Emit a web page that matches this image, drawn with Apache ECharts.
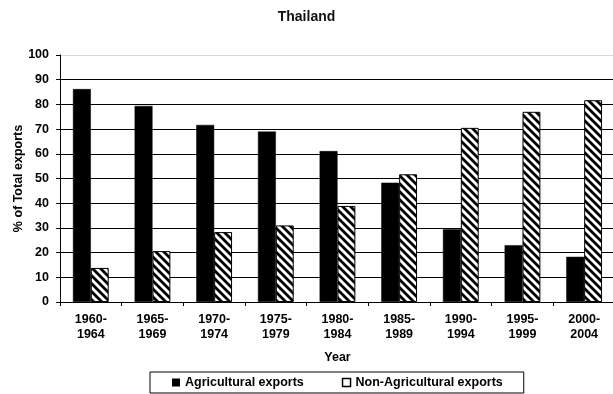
<!DOCTYPE html>
<html>
<head>
<meta charset="utf-8">
<script src="https://cdn.jsdelivr.net/npm/echarts@6/dist/echarts.min.js"></script>
<style>
  html, body { margin: 0; padding: 0; background: #fff; }
  #chart { width: 613px; height: 394px; }
</style>
</head>
<body>
<div id="chart"></div>
<script>
// Share of total exports, Thailand, five-year periods
const periods = ['1960-\n1964', '1965-\n1969', '1970-\n1974', '1975-\n1979', '1980-\n1984',
                 '1985-\n1989', '1990-\n1994', '1995-\n1999', '2000-\n2004'];
const agricultural = [86.2, 79.4, 71.7, 69.0, 61.1, 48.3, 29.5, 23.0, 18.3];
const nonAgricultural = [13.8, 20.6, 28.3, 31.0, 38.9, 51.7, 70.5, 77.0, 81.7];
const yTicks = [0, 10, 20, 30, 40, 50, 60, 70, 80, 90, 100];

// Diagonal "\" stripe fill for the non-agricultural bars
function stripeCanvas() {
  const s = 8;
  const c = document.createElement('canvas');
  c.width = s; c.height = s;
  const g = c.getContext('2d');
  g.fillStyle = '#fff';
  g.fillRect(0, 0, s, s);
  g.strokeStyle = '#000';
  g.lineWidth = 2.8;
  g.beginPath();
  g.moveTo(-s, -s); g.lineTo(2 * s, 2 * s);
  g.moveTo(-s, 0); g.lineTo(s, 2 * s);
  g.moveTo(0, -s); g.lineTo(2 * s, s);
  g.stroke();
  return c;
}
const stripes = { image: stripeCanvas(), repeat: 'repeat' };

// gridlines are black, the top (100) one is a pale grey
const gridColors = yTicks.map((v, i) => (i === yTicks.length - 1 ? '#d8d8d8' : '#000'));

const font = 'Liberation Sans, Arial, sans-serif';
const labelSize = 12.5;
const chart = echarts.init(document.getElementById('chart'), null, { renderer: 'canvas' });
chart.setOption({
  animation: false,
  backgroundColor: '#fff',
  title: {
    text: 'Thailand',
    left: 'center',
    top: 10,
    padding: 0,
    textStyle: { fontFamily: font, fontSize: 14, fontWeight: 'bold', color: '#111' }
  },
  grid: { left: 60, right: -2, top: 55, bottom: 92, containLabel: false, outerBoundsMode: 'none' },
  legend: {
    bottom: 1,
    left: 150,
    itemWidth: 8,
    itemHeight: 8,
    itemGap: 38,
    borderColor: '#000',
    borderWidth: 1,
    borderRadius: 0,
    padding: [4, 21, 4, 22],
    textStyle: { fontFamily: font, fontSize: labelSize, fontWeight: 'bold', color: '#000' },
    data: [
      { name: 'Agricultural exports', icon: 'rect', itemStyle: { color: '#000', borderWidth: 0 } },
      { name: 'Non-Agricultural exports', icon: 'rect', itemStyle: { color: '#fff', borderColor: '#000', borderWidth: 1.5 } }
    ]
  },
  xAxis: {
    type: 'category',
    data: periods,
    name: 'Year',
    nameLocation: 'middle',
    nameGap: 49,
    nameMoveOverlap: false,
    nameTextStyle: { fontFamily: font, fontSize: labelSize, fontWeight: 'bold', color: '#000' },
    axisLine: { lineStyle: { color: '#000', width: 1 } },
    axisTick: { show: true, inside: false, length: 4, lineStyle: { color: '#000' } },
    axisLabel: { fontFamily: font, fontSize: labelSize, fontWeight: 'bold', color: '#000', margin: 10, lineHeight: 15 }
  },
  yAxis: {
    type: 'value',
    min: yTicks[0],
    max: yTicks[yTicks.length - 1],
    interval: 10,
    name: '% of Total exports',
    nameLocation: 'middle',
    nameGap: 35,
    nameMoveOverlap: false,
    nameTextStyle: { fontFamily: font, fontSize: labelSize, fontWeight: 'bold', color: '#000' },
    axisLine: { show: true, lineStyle: { color: '#000', width: 1 } },
    axisTick: { show: true, inside: false, length: 4, lineStyle: { color: '#000' } },
    axisLabel: { fontFamily: font, fontSize: labelSize, fontWeight: 'bold', color: '#000', margin: 11 },
    splitLine: { show: true, lineStyle: { color: gridColors, width: 1 } }
  },
  series: [
    {
      name: 'Agricultural exports',
      type: 'bar',
      data: agricultural,
      barGap: '0%',
      barCategoryGap: '42%',
      itemStyle: { color: '#000', borderColor: '#000', borderWidth: 0.5 }
    },
    {
      name: 'Non-Agricultural exports',
      type: 'bar',
      data: nonAgricultural,
      barGap: '0%',
      barCategoryGap: '42%',
      itemStyle: { color: stripes, borderColor: '#000', borderWidth: 1 }
    }
  ]
});
</script>
</body>
</html>
